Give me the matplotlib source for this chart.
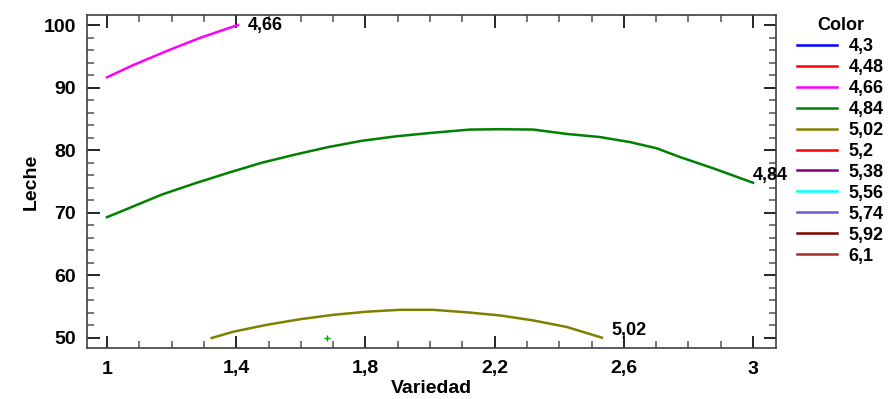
import matplotlib
matplotlib.use("Agg")
import matplotlib.pyplot as plt
from matplotlib.ticker import MultipleLocator, FixedLocator, FuncFormatter
from matplotlib.lines import Line2D

plt.rcParams['font.family'] = ['Liberation Sans', 'DejaVu Sans']

# Data
x_466 = [1.0, 1.081, 1.185, 1.288, 1.405]
y_466 = [91.65, 93.6, 95.85, 97.95, 100.0]

x_484 = [1.0, 1.066, 1.169, 1.272, 1.376, 1.479, 1.582, 1.685, 1.789, 1.892, 2.0,
         2.124, 2.217, 2.319, 2.423, 2.526, 2.619, 2.702, 2.774, 2.877, 3.0]
y_484 = [69.3, 70.7, 72.9, 74.7, 76.4, 78.0, 79.3, 80.5, 81.5, 82.2, 82.75,
         83.3, 83.35, 83.3, 82.6, 82.1, 81.3, 80.3, 78.9, 77.1, 74.8]

x_502 = [1.324, 1.391, 1.494, 1.598, 1.701, 1.804, 1.907, 2.010, 2.114, 2.217,
         2.320, 2.424, 2.532]
y_502 = [50.0, 51.0, 52.1, 53.0, 53.7, 54.2, 54.5, 54.5, 54.1, 53.6,
         52.8, 51.75, 50.05]

point_x = [1.68]
point_y = [50.0]

legend_labels = ["4,3", "4,48", "4,66", "4,84", "5,02", "5,2", "5,38", "5,56", "5,74", "5,92", "6,1"]
legend_colors = ["#0000ff", "#ff0000", "#ff00ff", "#008000", "#808000", "#ff0000",
                 "#800080", "#00ffff", "#6a5acd", "#800000", "#a52a2a"]

x_ticks = [1.0, 1.4, 1.8, 2.2, 2.6, 3.0]
y_ticks = [50, 60, 70, 80, 90, 100]

fig = plt.figure(figsize=(8.88, 3.99), dpi=100)
ax = fig.add_axes([87/888, 1-348/399, (776-87)/888, (348-15)/399])

ax.plot(x_466, y_466, color=legend_colors[2], lw=1.8)
ax.plot(x_484, y_484, color=legend_colors[3], lw=1.8)
ax.plot(x_502, y_502, color=legend_colors[4], lw=1.8)
ax.plot(point_x, point_y, marker='+', color='#00a000', ms=4, mew=1, ls='none')

lab_kw = dict(fontsize=13, fontweight='bold', va='center', ha='left')
ax.text(x_466[-1] + 0.031, y_466[-1], "4,66", **lab_kw)
ax.text(x_484[-1] - 0.002, y_484[-1] + 1.1, "4,84", **lab_kw)
ax.text(x_502[-1] + 0.031, y_502[-1] + 1.1, "5,02", **lab_kw)

ax.set_xlim(0.938, 3.071)
ax.set_ylim(48.4, 101.6)
ax.xaxis.set_major_locator(FixedLocator(x_ticks))
ax.xaxis.set_minor_locator(MultipleLocator(0.1))
ax.yaxis.set_major_locator(FixedLocator(y_ticks))
ax.yaxis.set_minor_locator(MultipleLocator(2))
fmt = FuncFormatter(lambda v, p: ("%g" % round(v, 2)).replace('.', ','))
ax.xaxis.set_major_formatter(fmt)
ax.yaxis.set_major_formatter(fmt)

ax.tick_params(which='both', direction='in', top=True, right=True)
ax.tick_params(which='major', length=9, width=1.2, color='black', labelsize=14)
ax.tick_params(axis='x', which='major', pad=9)
ax.tick_params(axis='y', which='major', pad=8)
ax.tick_params(which='minor', length=5, width=1.2, color='#606060')
for lbl in ax.get_xticklabels() + ax.get_yticklabels():
    lbl.set_fontweight('bold')
for s in ax.spines.values():
    s.set_color('#404040')
    s.set_linewidth(1.2)

ax.set_xlabel("Variedad", fontsize=14, fontweight='bold', labelpad=2)
ax.set_ylabel("Leche", fontsize=14, fontweight='bold', labelpad=2.5)

handles = [Line2D([], [], color=c, lw=1.8) for c in legend_colors]
leg = fig.legend(handles, legend_labels, title="Color", loc='upper left',
                 bbox_to_anchor=(797/888, 1-17/399), frameon=False,
                 prop={'weight': 'bold', 'size': 13}, handlelength=2.2,
                 handletextpad=0.65, labelspacing=0.22, borderaxespad=0,
                 borderpad=0)
leg.get_title().set_fontweight('bold')
leg.get_title().set_fontsize(13)

fig.savefig("out.png", dpi=100)
